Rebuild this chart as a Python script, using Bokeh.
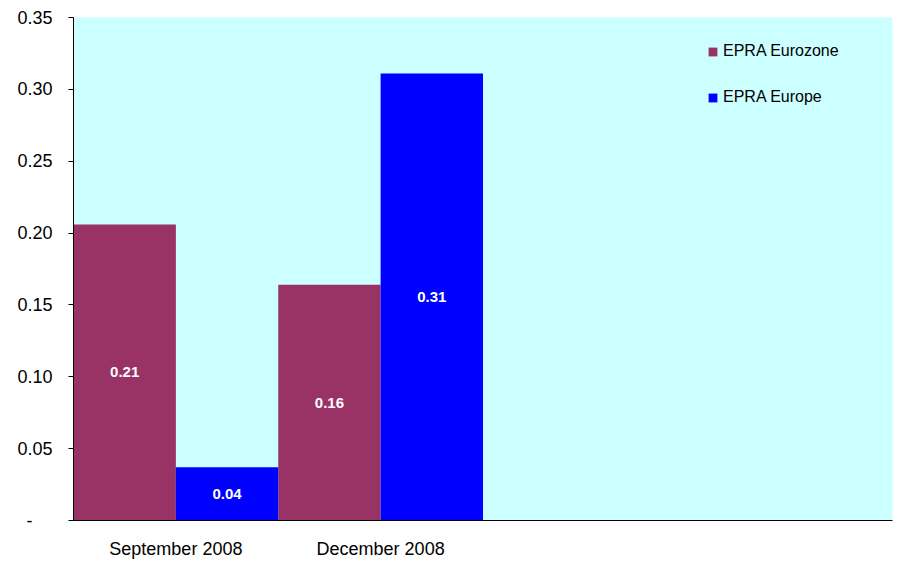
from bokeh.plotting import figure
from bokeh.models import ColumnDataSource, Range1d, FixedTicker, NumeralTickFormatter, Legend, LegendItem
from bokeh.embed import file_html
from bokeh.resources import INLINE
from bokeh.core.properties import value

# ---- data ----
categories = ["September 2008", "December 2008"]
n_slots = 4
eurozone = [0.206, 0.164]
europe = [0.037, 0.311]
series_names = ["EPRA Eurozone", "EPRA Europe"]
y_ticks = [0, 0.05, 0.1, 0.15, 0.2, 0.25, 0.3, 0.35]

FONT = "Liberation Sans"
COL_EZ = "#993366"
COL_EU = "#0000FF"

p = figure(width=898, height=561, output_backend="svg", toolbar_location=None,
           x_range=Range1d(0, n_slots), y_range=Range1d(0, 0.35),
           min_border_left=73, min_border_right=6, min_border_top=17, min_border_bottom=40)
p.background_fill_color = "#CCFFFF"
p.border_fill_color = "white"
p.outline_line_color = None
p.xgrid.visible = False
p.ygrid.visible = False

idx = list(range(len(categories)))
src_ez = ColumnDataSource(dict(x=[i + 0.25 for i in idx], top=eurozone,
                               mid=[v / 2 for v in eurozone],
                               lab=[f"{v:.2f}" for v in eurozone]))
src_eu = ColumnDataSource(dict(x=[i + 0.75 for i in idx], top=europe,
                               mid=[v / 2 for v in europe],
                               lab=[f"{v:.2f}" for v in europe]))

r_ez = p.vbar(x="x", top="top", width=0.5, bottom=0, source=src_ez, fill_color=COL_EZ, line_color=None)
r_eu = p.vbar(x="x", top="top", width=0.5, bottom=0, source=src_eu, fill_color=COL_EU, line_color=None)

for s in (src_ez, src_eu):
    p.text(x="x", y="mid", text="lab", source=s, text_color="white",
           text_font=value(FONT), text_font_style="bold", text_font_size="15px",
           text_align="center", text_baseline="middle")

# y axis
ya = p.yaxis[0]
ya.ticker = FixedTicker(ticks=y_ticks)
ya.formatter = NumeralTickFormatter(format="0.00")
ya.major_label_overrides = {0: "-\u2007\u2007"}
ya.minor_tick_line_color = None
ya.major_tick_in = 0
ya.major_tick_out = 5
ya.major_label_standoff = 16
ya.axis_line_color = "black"
ya.major_tick_line_color = "black"
ya.major_label_text_font = FONT
ya.major_label_text_font_size = "18px"
ya.major_label_text_color = "black"

# x axis
xa = p.xaxis[0]
xa.ticker = FixedTicker(ticks=[i + 0.5 for i in idx])
xa.major_label_overrides = {i + 0.5: c for i, c in zip(idx, categories)}
xa.major_tick_line_color = None
xa.minor_tick_line_color = None
xa.major_tick_out = 0
xa.major_tick_in = 0
xa.major_label_standoff = 18
xa.axis_line_color = "black"
xa.major_label_text_font = FONT
xa.major_label_text_font_size = "18px"
xa.major_label_text_color = "black"

legend = Legend(items=[LegendItem(label=series_names[0], renderers=[r_ez]),
                       LegendItem(label=series_names[1], renderers=[r_eu])],
                location=(634, 413))
legend.margin = 0
legend.padding = 0
legend.spacing = 26
legend.glyph_width = 11
legend.glyph_height = 11
legend.label_height = 20
legend.label_standoff = 5
legend.label_text_font = FONT
legend.label_text_font_size = "16px"
legend.label_text_color = "black"
legend.background_fill_alpha = 0
legend.border_line_color = None
p.add_layout(legend, "center")

open("out.html", "w").write(file_html(p, INLINE))
